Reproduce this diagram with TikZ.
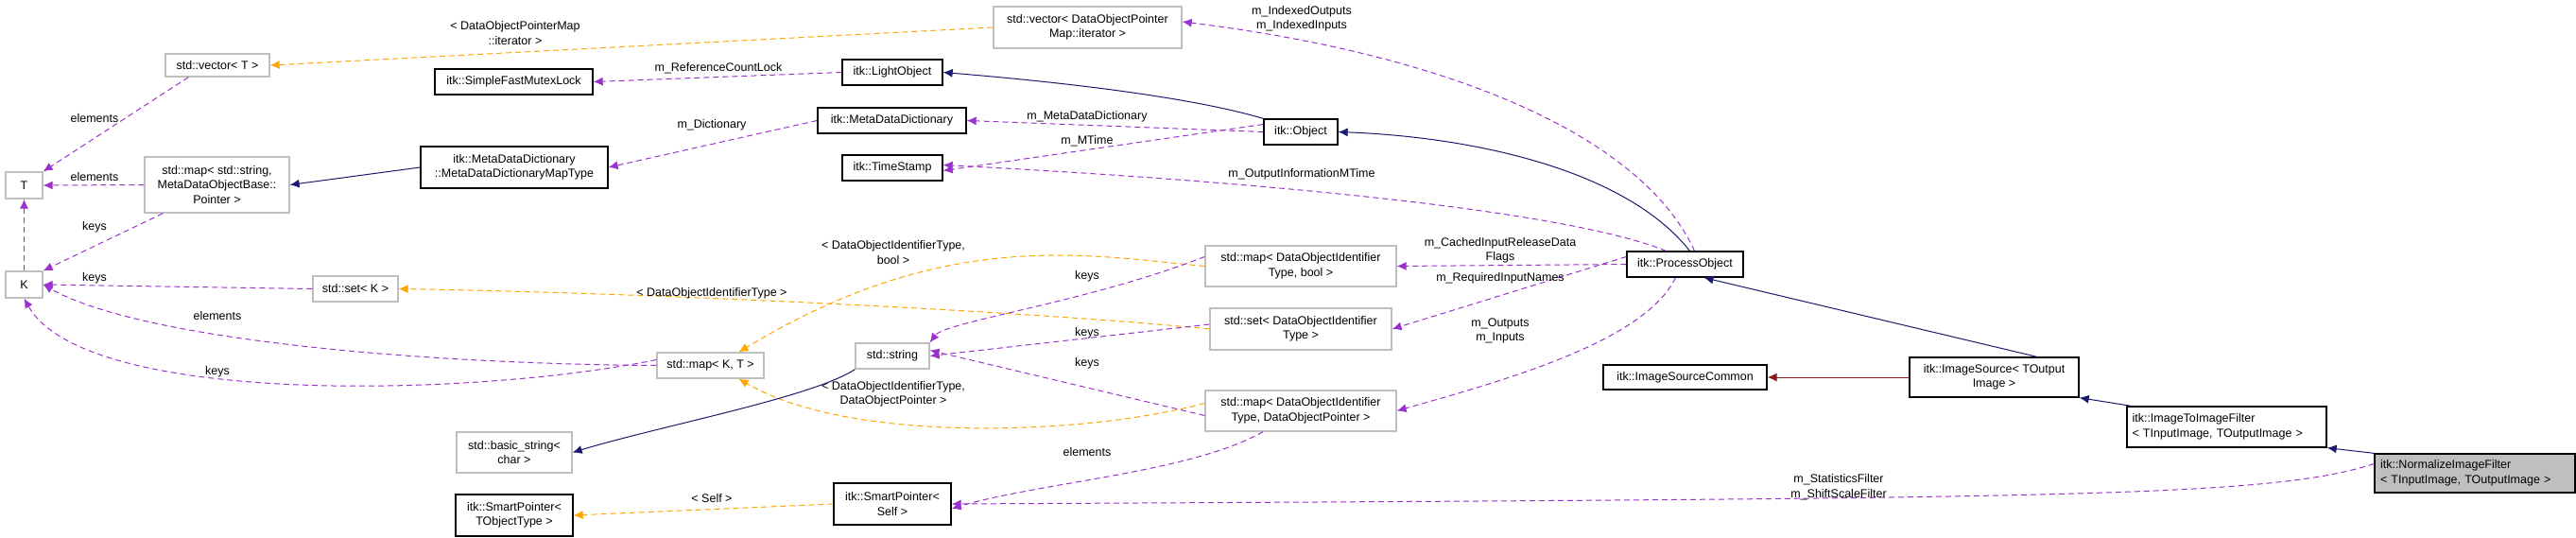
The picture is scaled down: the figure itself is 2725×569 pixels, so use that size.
\documentclass[tikz,border=0pt]{standalone}
\usepackage{fontspec}
\setmainfont{Liberation Sans}
\usetikzlibrary{arrows.meta}
\definecolor{pur}{HTML}{9A32CD}
\definecolor{org}{HTML}{FFA500}
\definecolor{nav}{HTML}{191970}
\definecolor{fbr}{HTML}{8B1A1A}
\definecolor{gbox}{HTML}{BFBFBF}
\begin{document}
\begin{tikzpicture}[x=1pt,y=-1pt,
  every node/.style={font=\fontsize{12.5}{15.5}\selectfont},
  itk/.style={draw=black,line width=1.3pt,fill=white,align=center,inner sep=0pt},
  std/.style={draw=gbox,line width=1.3pt,fill=white,align=center,inner sep=0pt},
  lbl/.style={align=center,inner sep=1pt},
  mem/.style={-{Latex[length=10pt,width=9pt,fill=pur]},draw=pur,dash pattern=on 6pt off 4pt,line width=1pt},
  tpl/.style={-{Latex[length=10pt,width=9pt,fill=org]},draw=org,dash pattern=on 6pt off 4pt,line width=1pt},
  inh/.style={-{Latex[length=10pt,width=9pt,fill=nav]},draw=nav,line width=1pt},
  pri/.style={-{Latex[length=10pt,width=9pt,fill=fbr]},draw=fbr,line width=1pt}]
\useasboundingbox (0,0) rectangle (2725,569);
\fill[white] (0,0) rectangle (2725,569);
% nodes
\node[std,minimum width=110,minimum height=24] (vecT) at (230,69) {std::vector< T >};
\node[std,minimum width=39,minimum height=28] (T) at (25.5,196) {T};
\node[std,minimum width=39,minimum height=28] (K) at (25.5,301) {K};
\node[std,minimum width=153,minimum height=59] (mapstr) at (229.5,195.5) {std::map< std::string,\\MetaDataObjectBase::\\Pointer >};
\node[itk,minimum width=167,minimum height=27] (sfml) at (543.5,86.5) {itk::SimpleFastMutexLock};
\node[itk,minimum width=198,minimum height=44] (mddmt) at (544,177) {itk::MetaDataDictionary\\::MetaDataDictionaryMapType};
\node[std,minimum width=90,minimum height=27] (setK) at (376,305.5) {std::set< K >};
\node[std,minimum width=113,minimum height=27] (mapKT) at (751.5,386.5) {std::map< K, T >};
\node[std,minimum width=122,minimum height=43] (bstr) at (544,478.5) {std::basic\_string<\\char >};
\node[itk,minimum width=124,minimum height=44] (spTO) at (544,545) {itk::SmartPointer<\\TObjectType >};
\node[std,minimum width=199,minimum height=44] (vecD) at (1150.5,29) {std::vector< DataObjectPointer\\Map::iterator >};
\node[itk,minimum width=106,minimum height=27] (lo) at (944,76.5) {itk::LightObject};
\node[itk,minimum width=157,minimum height=27] (mdd) at (943.5,127.5) {itk::MetaDataDictionary};
\node[itk,minimum width=106,minimum height=27] (ts) at (944,177.5) {itk::TimeStamp};
\node[itk,minimum width=78,minimum height=27] (obj) at (1376,139.5) {itk::Object};
\node[itk,minimum width=123,minimum height=27] (po) at (1782.5,279.5) {itk::ProcessObject};
\node[std,minimum width=202,minimum height=43] (mapB) at (1376,281.5) {std::map< DataObjectIdentifier\\Type, bool >};
\node[std,minimum width=192,minimum height=44] (setD) at (1376,348) {std::set< DataObjectIdentifier\\Type >};
\node[std,minimum width=78,minimum height=27] (str) at (944,376.5) {std::string};
\node[std,minimum width=202,minimum height=43] (mapP) at (1376,434.5) {std::map< DataObjectIdentifier\\Type, DataObjectPointer >};
\node[itk,minimum width=124,minimum height=44] (spS) at (944,533) {itk::SmartPointer<\\Self >};
\node[itk,minimum width=173,minimum height=26] (isc) at (1782.5,399) {itk::ImageSourceCommon};
\node[itk,minimum width=179,minimum height=42] (is) at (2109.5,399) {itk::ImageSource< TOutput\\Image >};
\node[itk,minimum width=211,minimum height=43,align=left,text width=200] (i2i) at (2355.5,451.5) {itk::ImageToImageFilter\\< TInputImage, TOutputImage >};
\node[itk,fill=gbox,minimum width=212,minimum height=41,align=left,text width=200] (nif) at (2618,500.5) {itk::NormalizeImageFilter\\< TInputImage, TOutputImage >};
% edges
\draw[tpl] (vecD.west) -- (vecT.east);
\node[lbl] (l1) at (545,35) {< DataObjectPointerMap\\::iterator >};
\draw[mem] (lo.west) -- (sfml.east);
\node[lbl] (l2) at (760,72) {m\_ReferenceCountLock};
\draw[mem] (mdd.west) -- (mddmt.east);
\node[lbl] (l3) at (753,132) {m\_Dictionary};
\draw[inh] (mddmt.west) -- (mapstr.east);
\draw[mem] (mapstr.west) -- (T.east);
\node[lbl] (l4) at (100,187) {elements};
\draw[mem] (mapstr.south west) ++(20,0) coordinate (ms) (ms) -- (K.north east);
\node[lbl] (l5) at (100,240) {keys};
\draw[mem] (vecT.south west) ++(25,0) coordinate (vs) (vs) -- (T.north east);
\node[lbl] (l6) at (100,125) {elements};
\draw[mem] (K.north) -- (T.south);
\draw[mem] (setK.west) -- (K.east);
\node[lbl] (l7) at (100,294) {keys};
\draw[mem] (mapKT.west) .. controls (450,385) and (150,360) .. (K.east);
\node[lbl] (l8) at (230,334) {elements};
\draw[mem] ([yshift=6]mapKT.west) .. controls (500,420) and (90,430) .. (K.south);
\node[lbl] (l9) at (230,393) {keys};
\draw[tpl] (setD.west) .. controls (1100,330) and (700,310) .. (setK.east);
\node[lbl] (l10) at (753,310) {< DataObjectIdentifierType >};
\draw[tpl] (mapB.west) .. controls (1150,270) and (1000,240) .. ([xshift=30]mapKT.north);
\node[lbl] (l11) at (945,267) {< DataObjectIdentifierType,\\bool >};
\draw[tpl] ([yshift=8]mapP.west) .. controls (1150,460) and (900,470) .. ([xshift=30]mapKT.south);
\node[lbl] (l12) at (945,417) {< DataObjectIdentifierType,\\DataObjectPointer >};
\draw[inh] (str.south west) .. controls (860,420) and (700,450) .. (bstr.east);
\draw[mem] ([yshift=10]mapB.west) .. controls (1150,320) and (1000,340) .. (str.north east);
\node[lbl] (l13) at (1150,292) {keys};
\draw[mem] ([yshift=5]setD.west) -- (str.east);
\node[lbl] (l14) at (1150,352) {keys};
\draw[mem] ([yshift=-5]mapP.west) -- ([yshift=6]str.east);
\node[lbl] (l15) at (1150,384) {keys};
\draw[mem] ([xshift=-40]mapP.south) .. controls (1260,500) and (1100,510) .. ([yshift=-5]spS.east);
\node[lbl] (l16) at (1150,478) {elements};
\draw[tpl] (spS.west) -- (spTO.east);
\node[lbl] (l17) at (753,527) {< Self >};
\draw[inh] (obj.north west) .. controls (1250,100) and (1100,85) .. (lo.east);
\draw[mem] (obj.west) -- (mdd.east);
\node[lbl] (l18) at (1150,123) {m\_MetaDataDictionary};
\draw[mem] ([yshift=8]obj.west) -- ([yshift=-3]ts.east);
\node[lbl] (l19) at (1150,149) {m\_MTime};
\draw[mem] ([xshift=-20]po.north) .. controls (1650,220) and (1300,190) .. ([yshift=3]ts.east);
\node[lbl] (l20) at (1377,184) {m\_OutputInformationMTime};
\draw[inh] ([xshift=5]po.north) .. controls (1720,180) and (1560,145) .. (obj.east);
\draw[mem] ([xshift=10]po.north) .. controls (1740,150) and (1550,60) .. ([yshift=6]vecD.east);
\node[lbl] (l21) at (1377,20) {m\_IndexedOutputs\\m\_IndexedInputs};
\draw[mem] (po.west) -- (mapB.east);
\node[lbl] (l22) at (1587,265) {m\_CachedInputReleaseData\\Flags};
\draw[mem] ([yshift=8]po.west) -- (setD.east);
\node[lbl] (l23) at (1587,294) {m\_RequiredInputNames};
\draw[mem] ([xshift=-10]po.south) .. controls (1740,360) and (1600,400) .. (mapP.east);
\node[lbl] (l24) at (1587,350) {m\_Outputs\\m\_Inputs};
\draw[inh] ([xshift=-40]is.north east) ++(-5,0) coordinate (isn) (isn) -- ([xshift=20]po.south);
\draw[pri] (is.west) -- (isc.east);
\draw[inh] ([xshift=-20]i2i.north west) ++(25,0) coordinate (i2n) (i2n) -- (is.south east);
\draw[inh] (nif.north west) -- (i2i.south east);
\draw[mem] ([yshift=10]nif.west) .. controls (2400,526) and (2200,527) .. (spS.east);
\node[lbl] (l25) at (1945,515) {m\_StatisticsFilter\\m\_ShiftScaleFilter};
\end{tikzpicture}
\end{document}
